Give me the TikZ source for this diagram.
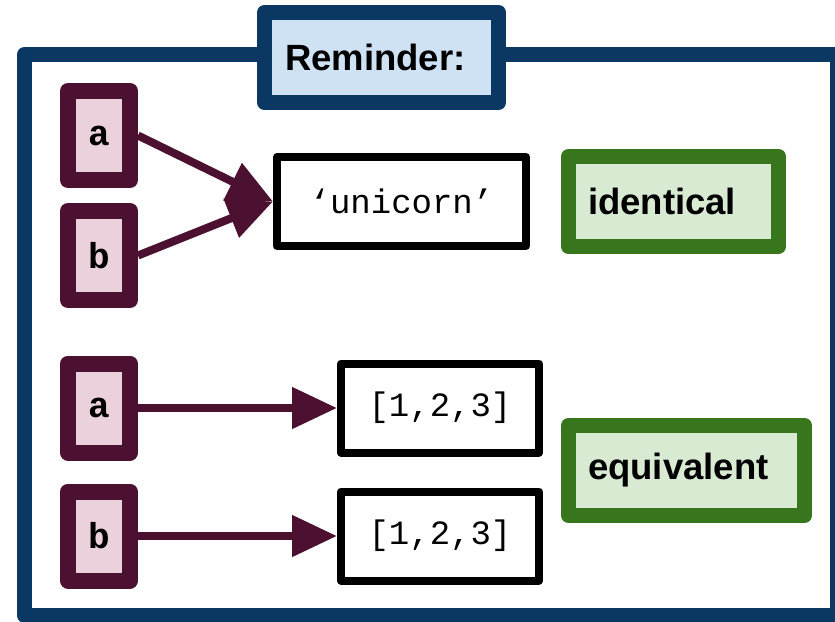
\documentclass[tikz,border=0pt]{standalone}
\usepackage{fontspec}
\setmainfont{Liberation Sans}
\setmonofont{Liberation Mono}
\usepackage{tikz}
\usetikzlibrary{arrows.meta}
\definecolor{frameblue}{HTML}{0B3863}
\definecolor{noteblue}{HTML}{CFE2F3}
\definecolor{varred}{HTML}{4C1130}
\definecolor{varpink}{HTML}{EAD1DC}
\definecolor{tagdark}{HTML}{38761D}
\definecolor{taglight}{HTML}{D9EAD3}
\begin{document}
\begin{tikzpicture}[x=1pt,y=-1pt,
  var/.style={draw=varred,fill=varpink,line width=16pt,line join=round,minimum width=62pt,minimum height=89pt,inner sep=0pt,font=\fontsize{36}{36}\selectfont\ttfamily\bfseries},
  obj/.style={draw=black,fill=white,line width=8pt,line join=round,minimum height=89pt,inner sep=0pt,font=\fontsize{34}{34}\selectfont\ttfamily},
  tag/.style={draw=tagdark,fill=taglight,line width=15pt,line join=round,minimum height=90pt,inner xsep=19.5pt,inner ysep=0pt,align=left,font=\fontsize{36.5}{36.5}\selectfont\bfseries},
  ref/.style={draw=varred,line width=8pt,-{Triangle[length=45pt,width=40pt]}}]
\useasboundingbox (0,0) rectangle (835,621);
\clip (0,0) rectangle (835,621);
\draw[frameblue,line width=15pt,line join=round] (24.5,54.5) rectangle (837.5,615.5);
\node[draw=frameblue,fill=noteblue,line width=15pt,line join=round,text width=193pt,minimum height=90pt,inner xsep=20.5pt,inner ysep=0pt,align=left,font=\fontsize{36.5}{36.5}\selectfont\bfseries] (note) at (381.5,57.5) {Reminder:};

\node[var] (a1) at (99,135.5) {a};
\node[var] (b1) at (99,255.5) {b};
\node[obj,minimum width=249pt] (word) at (401.5,201.5) {‘unicorn’};
\node[tag,text width=171pt] (same) at (673.5,201.5) {identical};
\draw[ref] (a1.east) -- (word.west);
\draw[ref] (b1.east) -- (word.west);

\node[var] (a2) at (99,408) {a};
\node[var] (b2) at (99,536) {b};
\node[obj,minimum width=198pt] (list1) at (440,408) {[1,2,3]};
\node[obj,minimum width=198pt] (list2) at (440,536) {[1,2,3]};
\node[tag,text width=197pt] (equal) at (686.5,470.5) {equivalent};
\draw[ref] (a2.east) -- (list1.west);
\draw[ref] (b2.east) -- (list2.west);
\end{tikzpicture}
\end{document}
